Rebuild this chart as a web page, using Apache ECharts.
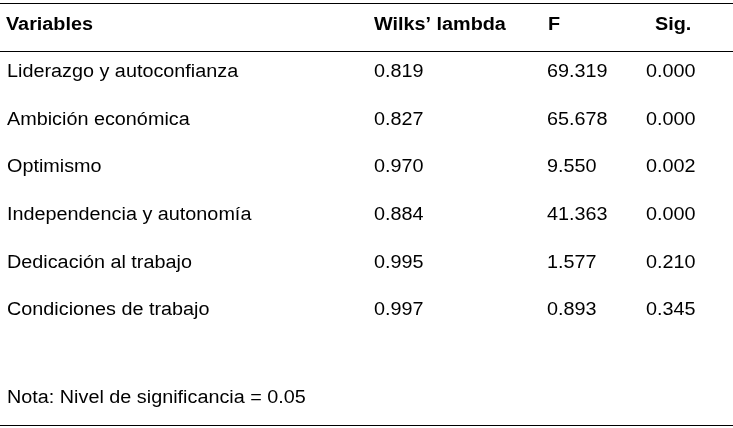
<!DOCTYPE html>
<html>
<head>
<meta charset="utf-8">
<script src="https://cdn.jsdelivr.net/npm/echarts@6/dist/echarts.min.js"></script>
<style>html,body{margin:0;padding:0;background:#fff}#c{width:733px;height:428px}</style>
</head>
<body>
<div id="c"></div>
<script>
const headers = ['Variables', 'Wilks\u2019 lambda', 'F', 'Sig.'];
const variables = ['Liderazgo y autoconfianza', 'Ambición económica', 'Optimismo', 'Independencia y autonomía', 'Dedicación al trabajo', 'Condiciones de trabajo'];
const wilks = [0.819, 0.827, 0.970, 0.884, 0.995, 0.997];
const fValues = [69.319, 65.678, 9.550, 41.363, 1.577, 0.893];
const sig = [0.000, 0.000, 0.002, 0.000, 0.210, 0.345];
const note = 'Nota: Nivel de significancia = 0.05';

// layout
const FONT = '"Liberation Sans", Arial, sans-serif';
const FS = 18, SX = 1.1;
const headerX = [6, 374, 548, 655];
const cellX = [7, 374, 547, 646];

const rowKeys = ['header'].concat(variables);
const rowsData = rowKeys.map((k, i) => [0, i]);

const chart = echarts.init(document.getElementById('c'), null, {renderer: 'canvas'});
chart.setOption({
  backgroundColor: '#fff',
  animation: false,
  grid: {left: 0, right: 0, top: 0, bottom: 95},
  xAxis: {type: 'value', min: 0, max: 733, show: false},
  yAxis: {type: 'category', data: rowKeys, inverse: true, show: false},
  series: [{
    type: 'custom',
    clip: false,
    data: rowsData,
    renderItem: function (params, api) {
      const r = api.value(1);
      let texts;
      let bold = false;
      let xs;
      if (r === 0) { texts = headers; bold = true; xs = headerX; }
      else {
        const i = r - 1;
        texts = [variables[i], wilks[i].toFixed(3), fValues[i].toFixed(3), sig[i].toFixed(3)];
        xs = cellX;
      }
      const children = texts.map((t, j) => {
        const p = api.coord([xs[j], r]);
        return {
          type: 'text', x: p[0], y: p[1] + 1, scaleX: SX,
          style: {text: t, fill: '#000', font: (bold ? 'bold ' : '') + FS + 'px ' + FONT,
                  align: 'left', verticalAlign: 'middle'}
        };
      });
      return {type: 'group', children: children};
    }
  }],
  graphic: [
    {type: 'line', shape: {x1: 0, y1: 3.5, x2: 733, y2: 3.5}, style: {stroke: '#000', lineWidth: 1.2}},
    {type: 'line', shape: {x1: 0, y1: 51.5, x2: 733, y2: 51.5}, style: {stroke: '#000', lineWidth: 1.2}},
    {type: 'line', shape: {x1: 0, y1: 425.5, x2: 733, y2: 425.5}, style: {stroke: '#000', lineWidth: 1.2}},
    {type: 'text', x: 7, y: 398, scaleX: SX,
     style: {text: note, fill: '#000', font: FS + 'px ' + FONT, align: 'left', verticalAlign: 'middle'}}
  ]
});
</script>
</body>
</html>
